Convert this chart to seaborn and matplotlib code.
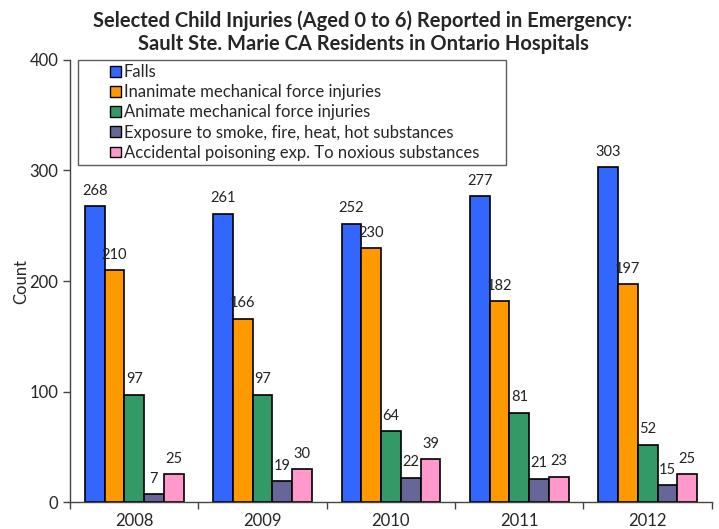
import matplotlib
matplotlib.use("Agg")
import matplotlib.pyplot as plt
from matplotlib.patches import Rectangle
from matplotlib.legend_handler import HandlerPatch
import seaborn as sns
import pandas as pd

years = ["2008", "2009", "2010", "2011", "2012"]
categories = [
    "Falls",
    "Inanimate mechanical force injuries",
    "Animate mechanical force injuries",
    "Exposure to smoke, fire, heat, hot substances",
    "Accidental poisoning exp. To noxious substances",
]
falls = [268, 261, 252, 277, 303]
inanimate = [210, 166, 230, 182, 197]
animate = [97, 97, 64, 81, 52]
smoke_fire = [7, 19, 22, 21, 15]
poisoning = [25, 30, 39, 23, 25]
colors = ["#3366FF", "#FF9900", "#339966", "#666699", "#FF99CC"]

series = [falls, inanimate, animate, smoke_fire, poisoning]
rows = []
for cat, vals in zip(categories, series):
    for yr, v in zip(years, vals):
        rows.append({"Year": yr, "Category": cat, "Count": v})
df = pd.DataFrame(rows)

sns.set_style("white")
plt.rcParams["font.family"] = ["Lato", "DejaVu Sans"]

fig = plt.figure(figsize=(7.19, 5.29), dpi=100)
ax = fig.add_axes([0.0974, 0.051, 0.8926, 0.8356])

sns.barplot(data=df, x="Year", y="Count", hue="Category", hue_order=categories,
            palette=colors, width=0.77, edgecolor="black", linewidth=1.2,
            saturation=1, errorbar=None, ax=ax)

for cont in ax.containers:
    ax.bar_label(cont, fmt="%d", padding=6, fontsize=10.5, color="#222222")

ax.set_ylim(0, 400)
ax.set_yticks([0, 100, 200, 300, 400])
ax.set_xlim(-0.5, 4.5)
ax.set_xlabel("")
ax.set_ylabel("Count", fontsize=12, labelpad=0)
ax.tick_params(axis="y", direction="out", length=5, width=1, labelsize=12, left=True, color="#444444")
ax.tick_params(axis="x", length=0, labelsize=12, pad=8)
# separators between year groups on the category axis
ax.set_xticks([-0.5, 0.5, 1.5, 2.5, 3.5, 4.5], minor=True)
ax.tick_params(axis="x", which="minor", direction="out", length=5, width=1, bottom=True, color="#444444")
for s in ["top", "right"]:
    ax.spines[s].set_visible(False)
for s in ["left", "bottom"]:
    ax.spines[s].set_color("#444444")
    ax.spines[s].set_linewidth(1)


def square_swatch(legend, orig_handle, xdescent, ydescent, width, height, fontsize):
    s = height * 1.0
    return Rectangle((-xdescent + width - s, -ydescent + (height - s) / 2), s, s)


handles, labels = ax.get_legend_handles_labels()
leg = ax.legend(handles, labels, loc="upper left",
                bbox_to_anchor=(0.0125, 0.0, 0.667, 1.0), mode="expand",
                fontsize=12, frameon=True, fancybox=False, edgecolor="#333333",
                handlelength=2.3, handleheight=0.6, handletextpad=0.2,
                labelspacing=0.25, borderpad=0.25, borderaxespad=0,
                handler_map={Rectangle: HandlerPatch(patch_func=square_swatch)})
leg.get_frame().set_linewidth(1)
for h in leg.legend_handles:
    h.set_edgecolor("black")
    h.set_linewidth(1)

fig.suptitle("Selected Child Injuries (Aged 0 to 6) Reported in Emergency:\n"
             "Sault Ste. Marie CA Residents in Ontario Hospitals",
             x=0.505, y=0.98, fontsize=14.5, fontweight="bold", linespacing=1.2)

fig.savefig("out.png", dpi=100)
